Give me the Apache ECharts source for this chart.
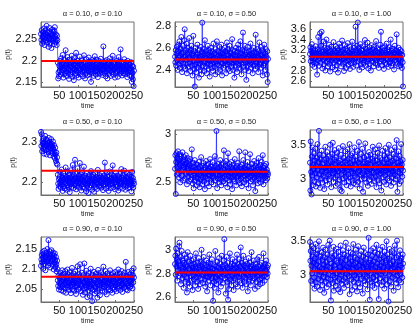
<!DOCTYPE html>
<html><head><meta charset="utf-8">
<script src="https://cdn.jsdelivr.net/npm/echarts@6/dist/echarts.min.js"></script>
<style>html,body{margin:0;padding:0;background:#fff}#c{width:416px;height:330px}</style>
</head><body><div id="c"></div>
<script>
const titles = ['α = 0.10, σ = 0.10','α = 0.10, σ = 0.50','α = 0.10, σ = 1.00',
                'α = 0.50, σ = 0.10','α = 0.50, σ = 0.50','α = 0.50, σ = 1.00',
                'α = 0.90, σ = 0.10','α = 0.90, σ = 0.50','α = 0.90, σ = 1.00'];
const xTicks = [50,100,150,200,250];
const yTicks = [[2.15,2.2,2.25],[2.4,2.6,2.8],[2.6,2.8,3,3.2,3.4,3.6],
                [2.2,2.3],[2.5,3],[3,3.5],
                [2.05,2.1,2.15],[2.6,2.8,3],[3,3.5]];
const yMin = [2.138,2.245,2.48,2.168,2.37,2.752,2.018,2.56,2.618];
const yMax = [2.29,2.836,3.74,2.3285,3.04,3.733,2.18,3.108,3.552];
const meanP = [2.199,2.495,3.066,2.228,2.61,3.173,2.081,2.808,3.06];

const p11 = [2.262,2.248,2.271,2.239,2.255,2.266,2.244,2.258,2.275,2.251,
2.236,2.262,2.270,2.247,2.259,2.281,2.253,2.242,2.265,2.257,
2.232,2.249,2.268,2.276,2.254,2.241,2.263,2.250,2.229,2.257,
2.272,2.260,2.245,2.266,2.252,2.238,2.269,2.278,2.256,2.243,
2.261,2.249,2.236,2.258,2.247,
2.195,2.158,2.172,2.163,2.188,
2.176,2.199,2.184,2.167,2.205,2.191,2.172,2.186,2.213,2.178,
2.160,2.193,2.182,2.201,2.169,2.187,2.224,2.175,2.190,2.164,
2.183,2.208,2.171,2.196,2.180,2.157,2.189,2.202,2.177,2.168,
2.194,2.185,2.211,2.173,2.162,2.198,2.181,2.190,2.154,2.179,
2.206,2.187,2.170,2.193,2.218,2.176,2.184,2.166,2.199,2.188,
2.172,2.160,2.195,2.183,2.209,2.178,2.191,2.168,2.186,2.200,
2.174,2.189,2.163,2.181,2.196,2.212,2.177,2.185,2.158,2.192,
2.180,2.203,2.171,2.187,2.165,2.194,2.182,2.176,2.207,2.189,
2.168,2.183,2.197,2.173,2.150,2.186,2.201,2.179,2.192,2.170,
2.185,2.164,2.198,2.181,2.210,2.175,2.190,2.167,2.184,2.202,
2.178,2.193,2.161,2.186,2.174,2.199,2.183,2.169,2.191,2.177,
2.204,2.188,2.172,2.195,2.180,2.166,2.187,2.233,2.179,2.192,
2.170,2.184,2.198,2.163,2.186,2.175,2.201,2.189,2.158,2.182,
2.194,2.178,2.169,2.191,2.205,2.176,2.187,2.164,2.183,2.197,
2.173,2.188,2.211,2.180,2.167,2.193,2.179,2.185,2.160,2.196,
2.182,2.171,2.200,2.186,2.175,2.190,2.162,2.184,2.208,2.177,
2.193,2.169,2.188,2.226,2.181,2.174,2.197,2.165,2.186,2.179,
2.192,2.170,2.183,2.203,2.176,2.189,2.168,2.195,2.180,2.173,
2.187,2.161,2.199,2.184,2.172,2.194,2.178,2.166,2.190,2.182,
2.175,2.196,2.163,2.150,2.188,2.171,2.156,2.185,2.140,2.176];

const p12 = [2.52,2.47,2.58,2.44,2.55,2.61,2.49,2.40,2.57,2.63,
2.51,2.45,2.66,2.53,2.42,2.59,2.48,2.70,2.55,2.38,
2.50,2.62,2.46,2.56,2.43,2.67,2.77,2.52,2.41,2.58,
2.49,2.64,2.37,2.54,2.46,2.60,2.51,2.43,2.69,2.56,
2.47,2.39,2.58,2.50,2.62,2.44,2.55,2.35,2.53,2.71,
2.48,2.41,2.57,2.25,2.45,2.60,2.52,2.38,2.54,2.47,
2.63,2.42,2.55,2.49,2.33,2.58,2.46,2.52,2.40,2.61,
2.50,2.36,2.56,2.83,2.44,2.53,2.47,2.59,2.39,2.55,
2.67,2.48,2.43,2.57,2.51,2.37,2.54,2.46,2.62,2.49,
2.41,2.58,2.52,2.34,2.56,2.45,2.60,2.48,2.53,2.42,
2.57,2.50,2.39,2.64,2.47,2.55,2.43,2.51,2.36,2.59,
2.48,2.54,2.66,2.45,2.52,2.38,2.57,2.49,2.44,2.61,
2.53,2.40,2.56,2.47,2.63,2.51,2.35,2.55,2.46,2.58,
2.42,2.52,2.49,2.60,2.44,2.57,2.48,2.37,2.54,2.65,
2.50,2.45,2.59,2.41,2.53,2.47,2.62,2.39,2.56,2.48,
2.55,2.43,2.51,2.68,2.46,2.58,2.40,2.54,2.49,2.33,
2.57,2.52,2.44,2.60,2.47,2.53,2.38,2.56,2.50,2.63,
2.45,2.59,2.42,2.52,2.48,2.66,2.41,2.55,2.36,2.51,
2.58,2.46,2.74,2.53,2.43,2.57,2.49,2.62,2.40,2.54,
2.47,2.31,2.56,2.50,2.44,2.61,2.52,2.39,2.57,2.48,
2.54,2.45,2.64,2.51,2.42,2.58,2.47,2.55,2.37,2.53,
2.49,2.60,2.44,2.56,2.50,2.41,2.72,2.48,2.55,2.46,
2.59,2.43,2.52,2.38,2.57,2.50,2.65,2.45,2.54,2.47,
2.61,2.42,2.53,2.49,2.58,2.35,2.56,2.44,2.51,2.63,
2.46,2.55,2.40,2.59,2.48,2.52,2.36,2.57,2.29,2.50];

const p13 = [3.12,3.25,2.98,3.18,3.05,3.31,2.91,3.08,3.22,2.96,
3.15,3.03,2.87,3.19,3.10,3.27,2.94,3.06,3.14,2.72,
3.21,3.00,3.45,3.09,2.89,3.17,3.04,3.52,3.13,2.95,
3.28,3.55,3.07,2.84,3.16,3.01,3.36,3.11,2.92,3.24,
3.05,2.80,3.19,3.12,3.40,2.97,3.08,3.23,2.88,3.14,
3.02,3.30,2.93,3.10,2.78,3.18,3.06,3.26,2.99,3.13,
2.86,3.21,3.04,3.35,2.95,3.09,3.17,2.82,3.11,3.27,
3.00,3.15,2.90,3.23,3.07,2.76,3.19,3.03,3.32,2.97,
3.12,3.05,3.25,2.88,3.16,3.01,3.38,3.08,2.93,3.20,
3.04,2.79,3.14,3.29,2.96,3.10,3.22,2.85,3.06,3.18,
2.99,3.33,3.09,2.91,3.15,3.02,3.26,2.83,3.13,3.07,
3.21,2.94,3.11,3.36,3.00,3.17,2.87,3.08,3.24,2.96,
3.12,3.03,3.65,3.19,2.90,3.14,3.28,2.98,3.73,3.10,
3.05,3.23,2.81,3.16,3.01,3.31,2.92,3.09,3.20,3.04,
2.86,3.18,3.11,3.27,2.95,3.13,3.00,3.39,3.07,2.89,
3.22,3.06,2.97,3.15,3.34,3.02,2.84,3.19,3.10,3.25,
2.93,3.08,3.17,2.80,3.12,3.29,3.04,2.98,3.21,3.07,
3.14,2.88,3.26,3.03,3.11,2.94,3.18,3.37,3.00,3.09,
3.23,2.91,3.15,3.05,2.85,3.20,3.12,2.97,3.30,3.08,
3.55,3.02,3.16,2.90,3.13,3.24,2.99,3.06,2.83,3.19,
3.10,3.27,2.95,3.14,3.04,3.32,2.92,3.11,3.21,3.01,
2.87,3.17,3.08,3.25,2.96,3.12,3.40,3.03,2.89,3.18,
3.09,2.94,3.22,3.06,3.15,2.82,3.13,3.28,3.00,3.11,
3.19,2.97,3.50,3.07,2.93,3.16,3.02,3.24,2.88,3.14,
3.05,3.20,2.90,3.12,3.01,3.17,2.85,3.10,2.96,2.49];

const p21 = [2.324,2.289,2.318,2.276,2.301,2.295,2.283,2.308,2.270,2.297,
2.286,2.314,2.279,2.293,2.305,2.268,2.290,2.302,2.281,2.296,
2.274,2.309,2.287,2.299,2.266,2.292,2.284,2.306,2.277,2.294,
2.288,2.271,2.300,2.282,2.263,2.291,2.275,2.259,2.285,2.268,
2.252,2.273,2.246,2.261,2.243,
2.218,2.196,2.183,2.207,2.190,
2.212,2.199,2.225,2.186,2.203,2.231,2.194,2.210,2.178,2.205,
2.221,2.189,2.200,2.215,2.184,2.208,2.236,2.197,2.213,2.181,
2.204,2.226,2.192,2.209,2.187,2.218,2.201,2.175,2.211,2.195,
2.229,2.206,2.188,2.214,2.199,2.242,2.203,2.185,2.217,2.193,
2.208,2.255,2.196,2.211,2.182,2.220,2.203,2.190,2.234,2.207,
2.198,2.215,2.186,2.209,2.247,2.201,2.193,2.219,2.179,2.206,
2.224,2.195,2.212,2.188,2.203,2.238,2.200,2.184,2.216,2.197,
2.210,2.177,2.205,2.222,2.191,2.208,2.196,2.173,2.214,2.202,
2.187,2.219,2.204,2.192,2.227,2.199,2.213,2.181,2.206,2.195,
2.218,2.201,2.176,2.209,2.194,2.223,2.205,2.188,2.212,2.198,
2.183,2.207,2.230,2.196,2.211,2.189,2.204,2.217,2.192,2.200,
2.214,2.186,2.203,2.221,2.197,2.209,2.180,2.206,2.193,2.216,
2.201,2.248,2.195,2.210,2.184,2.207,2.224,2.198,2.213,2.190,
2.205,2.178,2.212,2.199,2.226,2.194,2.208,2.185,2.203,2.219,
2.196,2.210,2.241,2.201,2.187,2.215,2.198,2.206,2.182,2.211,
2.200,2.223,2.193,2.208,2.189,2.216,2.204,2.179,2.212,2.197,
2.209,2.186,2.220,2.202,2.195,2.232,2.199,2.211,2.184,2.205,
2.217,2.192,2.207,2.228,2.196,2.203,2.181,2.213,2.200,2.190,
2.222,2.198,2.209,2.185,2.214,2.201,2.194,2.218,2.187,2.206,
2.199,2.213,2.177,2.204,2.225,2.193,2.210,2.186,2.202,2.196];

const p22 = [2.64,2.78,2.38,2.71,2.80,2.58,2.75,2.66,2.82,2.60,
2.73,2.55,2.79,2.68,2.50,2.74,2.62,2.77,2.57,2.70,
2.81,2.63,2.52,2.72,2.66,2.76,2.54,2.69,2.61,2.78,
2.59,2.70,2.48,2.67,2.75,2.56,2.64,2.72,2.51,2.68,
2.60,2.74,2.53,2.65,2.58,2.84,2.62,2.49,2.70,2.57,
2.44,2.66,2.59,2.73,2.52,2.63,2.55,2.69,2.47,2.61,
2.68,2.54,2.64,2.50,2.71,2.58,2.45,2.66,2.60,2.53,
2.76,2.57,2.62,2.48,2.67,2.55,2.70,2.51,2.63,2.59,
2.43,2.65,2.56,2.72,2.60,2.49,2.68,2.54,2.62,2.58,
2.69,2.46,2.64,2.57,2.74,2.53,2.61,2.66,2.50,2.63,
2.56,2.71,2.59,2.48,2.65,2.55,2.62,2.77,2.52,2.60,
2.67,3.03,2.58,2.44,2.64,2.54,2.69,2.61,2.50,2.66,
2.57,2.73,2.53,2.62,2.47,2.68,2.59,2.55,2.64,2.51,
2.70,2.83,2.56,2.63,2.49,2.67,2.58,2.72,2.54,2.61,
2.45,2.65,2.80,2.57,2.62,2.52,2.69,2.60,2.48,2.66,
2.55,2.71,2.59,2.43,2.64,2.56,2.68,2.53,2.62,2.58,
2.74,2.51,2.65,2.60,2.47,2.67,2.55,2.63,2.57,2.70,
2.52,2.61,2.82,2.58,2.49,2.66,2.54,2.64,2.59,2.46,
2.68,2.56,2.62,2.73,2.50,2.65,2.57,2.60,2.81,2.53,
2.63,2.48,2.67,2.58,2.71,2.54,2.61,2.44,2.66,2.59,
2.56,2.79,2.62,2.51,2.64,2.57,2.69,2.53,2.60,2.47,
2.65,2.58,2.72,2.55,2.62,2.41,2.67,2.59,2.52,2.70,
2.57,2.63,2.49,2.66,2.75,2.54,2.61,2.58,2.68,2.50,
2.64,2.56,2.71,2.60,2.53,2.78,2.62,2.48,2.65,2.59,
2.55,2.67,2.61,2.52,2.69,2.57,2.63,2.54,2.60,2.58];

const p23 = [3.24,2.82,3.56,3.10,2.76,3.33,3.05,3.47,2.90,3.21,
3.14,3.38,2.96,3.27,3.08,3.45,2.88,3.19,3.31,3.02,
3.52,3.13,2.93,3.25,3.72,3.07,3.36,2.86,3.18,3.29,
3.00,3.42,3.11,2.94,3.22,3.35,3.04,3.16,2.84,3.28,
3.09,3.48,3.17,2.97,3.30,3.12,3.40,2.91,3.20,3.06,
3.34,2.99,3.23,3.15,3.51,3.03,3.26,2.87,3.18,3.37,
3.08,3.54,3.13,2.95,3.29,3.10,3.43,3.01,3.21,2.89,
3.32,3.14,3.05,3.39,2.92,3.24,3.11,3.46,2.98,3.19,
3.27,2.83,3.15,3.36,3.07,2.81,3.22,3.12,3.49,3.00,
3.18,3.31,2.94,3.25,3.09,3.41,3.03,3.16,2.90,3.28,
3.13,3.44,3.06,2.96,3.30,3.17,3.52,3.02,3.23,2.88,
3.35,3.11,3.20,2.97,3.38,3.08,3.26,2.93,3.15,3.47,
3.04,3.21,3.33,2.91,3.14,3.27,3.01,3.42,3.10,2.95,
3.24,3.55,3.12,2.85,3.29,3.06,3.19,3.37,2.99,3.16,
3.45,3.08,2.80,3.22,3.13,3.32,3.00,3.25,3.53,3.05,
3.18,2.94,3.34,3.11,3.23,2.89,3.28,3.07,3.40,3.14,
2.98,3.21,3.36,3.03,3.17,2.92,3.30,3.12,3.48,3.01,
3.26,3.09,2.96,3.33,3.15,3.44,3.04,3.20,2.87,3.27,
3.11,3.39,2.97,3.22,3.06,3.50,3.14,2.93,3.31,3.08,
3.19,2.82,3.28,3.13,3.42,3.02,3.24,3.10,2.95,3.35,
3.16,3.05,3.46,3.12,2.91,3.29,3.18,3.38,3.00,3.23,
3.09,3.51,3.14,2.97,3.32,3.07,3.25,2.89,3.43,3.15,
3.02,3.27,3.11,3.37,2.94,3.20,3.06,3.47,3.13,2.99,
3.30,3.17,3.58,3.04,2.80,3.24,3.10,3.41,3.19,2.92,
3.34,3.08,3.26,2.96,3.52,3.15,3.21,3.03,3.28,3.12];

const p31 = [2.108,2.124,2.135,2.117,2.142,2.129,2.101,2.138,2.120,2.146,
2.113,2.131,2.097,2.126,2.140,2.118,2.133,2.150,2.122,2.109,
2.172,2.137,2.115,2.128,2.144,2.104,2.132,2.119,2.147,2.125,
2.136,2.111,2.141,2.127,2.099,2.134,2.116,2.139,2.123,2.106,
2.130,2.112,2.094,2.121,2.100,
2.072,2.058,2.084,2.049,2.066,
2.078,2.055,2.091,2.062,2.047,2.083,2.069,2.097,2.058,2.074,
2.044,2.088,2.063,2.079,2.052,2.095,2.067,2.041,2.081,2.060,
2.076,2.099,2.054,2.070,2.086,2.048,2.065,2.092,2.057,2.073,
2.040,2.084,2.061,2.103,2.068,2.050,2.079,2.063,2.089,2.046,
2.071,2.056,2.094,2.066,2.038,2.082,2.059,2.075,2.107,2.064,
2.049,2.087,2.070,2.053,2.080,2.112,2.062,2.045,2.077,2.091,
2.058,2.073,2.036,2.068,2.085,2.051,2.114,2.066,2.042,2.078,
2.060,2.096,2.054,2.071,2.030,2.083,2.064,2.047,2.090,2.057,
2.074,2.033,2.069,2.101,2.052,2.079,2.061,2.020,2.086,2.065,
2.048,2.076,2.093,2.058,2.039,2.072,2.055,2.088,2.067,2.044,
2.081,2.029,2.063,2.098,2.070,2.051,2.084,2.060,2.035,2.077,
2.066,2.092,2.053,2.074,2.046,2.087,2.062,2.106,2.069,2.056,
2.080,2.043,2.071,2.095,2.059,2.075,2.037,2.065,2.089,2.054,
2.068,2.083,2.050,2.073,2.062,2.097,2.047,2.078,2.058,2.085,
2.064,2.041,2.076,2.090,2.055,2.070,2.082,2.049,2.067,2.093,
2.060,2.074,2.045,2.086,2.063,2.052,2.079,2.099,2.066,2.057,
2.072,2.088,2.048,2.069,2.081,2.058,2.095,2.064,2.043,2.077,
2.061,2.084,2.053,2.073,2.091,2.056,2.068,2.118,2.075,2.050,
2.082,2.065,2.047,2.078,2.093,2.060,2.071,2.054,2.087,2.069,
2.057,2.080,2.063,2.096,2.074,2.052,2.085,2.067,2.102,2.079];

const p32 = [2.88,2.95,2.79,3.01,2.86,2.92,2.74,2.97,2.83,2.90,
2.78,3.03,3.06,2.87,2.80,2.94,2.71,2.85,2.99,2.82,
2.76,2.91,2.84,2.68,2.89,2.79,2.96,2.73,2.87,2.81,
2.93,2.77,2.64,2.86,2.98,2.80,2.72,2.90,2.84,2.69,
2.83,2.95,2.78,2.87,2.74,2.91,2.82,2.66,2.85,2.79,
2.92,2.75,2.88,2.81,2.70,2.86,2.97,2.77,2.84,2.73,
2.89,2.80,2.67,2.85,2.93,2.78,2.83,2.71,2.90,2.82,
2.76,3.00,2.86,2.79,2.88,2.72,2.84,2.94,2.81,2.75,
2.87,2.69,2.83,2.78,2.91,2.80,2.65,2.86,2.77,2.89,
2.82,2.74,2.96,2.79,2.85,2.70,2.88,2.81,2.76,2.92,
2.78,2.84,2.57,2.80,2.73,2.87,2.68,2.83,2.99,2.77,
2.86,2.71,2.82,2.90,2.75,2.79,2.64,2.85,2.93,2.80,
2.74,2.88,2.83,2.69,2.81,2.95,2.77,2.86,2.72,2.84,
2.79,2.91,3.09,2.82,2.76,2.87,2.63,2.80,2.94,2.85,
2.73,2.89,2.58,2.78,2.84,2.67,2.81,2.97,2.75,2.86,
2.82,2.70,2.88,2.79,2.92,2.74,2.83,2.66,2.87,2.80,
2.76,2.90,2.84,2.71,2.85,2.78,2.96,2.81,2.69,2.88,
2.83,2.77,2.92,2.80,2.74,2.86,3.02,2.79,2.72,2.89,
2.84,2.68,2.82,2.95,2.78,2.87,2.73,2.81,2.90,2.76,
2.85,2.80,2.71,2.88,2.83,2.65,2.79,2.93,2.82,2.75,
2.89,2.77,2.84,2.70,2.86,2.98,2.81,2.74,2.87,2.79,
2.83,2.91,2.76,2.85,2.67,2.80,2.88,2.73,2.84,2.78,
2.92,2.82,2.69,2.86,2.79,2.94,2.75,2.83,2.71,2.87,
2.80,2.76,2.89,2.84,2.72,2.85,2.81,2.97,2.78,2.86,
2.74,2.88,2.83,2.79,2.91,2.82,2.77,2.85,2.80,2.87];

const p33 = [3.48,3.21,3.35,2.92,3.14,3.42,3.03,3.27,2.88,3.18,
3.39,2.97,2.81,3.24,3.09,3.45,2.90,3.16,3.31,2.84,
3.07,3.36,2.95,3.20,3.49,3.01,3.12,2.79,3.28,3.05,
2.93,3.33,3.10,2.86,3.22,3.40,2.98,3.15,2.75,3.26,
3.04,3.37,2.91,3.19,3.08,2.83,3.30,3.13,2.96,3.44,
3.02,2.87,3.23,3.50,3.11,2.94,2.64,3.17,3.06,3.32,
2.89,3.25,3.00,3.41,2.78,3.14,3.29,2.97,3.09,2.85,
3.21,3.38,3.03,2.92,3.18,2.80,3.34,3.07,2.95,3.27,
3.12,2.76,3.43,3.01,3.19,2.88,3.24,3.05,3.36,2.93,
3.16,2.82,3.30,3.08,2.97,3.22,3.47,2.90,3.13,3.02,
3.28,2.86,3.11,3.39,2.99,3.17,2.73,3.25,3.06,3.33,
2.94,3.20,3.04,2.79,3.31,3.10,3.45,2.91,3.15,3.00,
3.26,2.84,3.18,3.37,2.96,3.12,2.77,3.23,3.05,3.42,
2.89,3.14,3.29,3.02,2.83,3.21,3.08,3.35,2.95,3.19,
3.04,2.74,3.27,3.11,3.40,2.92,3.16,3.01,3.32,2.87,
3.13,3.24,2.98,3.09,2.80,3.30,3.06,3.54,2.94,3.18,
2.65,3.22,3.03,3.36,2.90,3.15,3.28,2.85,3.10,3.39,
2.97,3.20,3.07,2.82,3.33,3.12,2.93,3.25,3.44,3.00,
3.17,2.88,3.31,3.05,2.66,3.23,3.08,3.37,2.96,3.14,
3.02,3.29,2.86,3.19,3.41,3.06,2.91,3.26,3.11,2.81,
3.34,3.03,3.18,2.94,3.22,3.49,3.09,2.87,3.30,3.13,
2.625,3.24,3.01,3.38,2.92,3.16,3.07,2.84,3.27,3.10,
3.35,2.97,3.20,3.04,2.78,3.32,3.12,3.43,2.95,3.15,
3.06,2.89,3.26,3.50,3.00,3.19,2.83,3.28,3.08,2.93,
3.21,3.36,3.02,3.14,2.90,3.25,3.11,2.97,3.30,3.17];

const series = [p11,p12,p13,p21,p22,p23,p31,p32,p33];

const lefts = [41,175,310], tops = [22,130,237], W = 93, H = 65;
const nameGaps = [24,19,22];
const FONT = 'Liberation Sans, Arial, Helvetica, sans-serif';
const AX = '#6e6e6e';

const grid = [], xAxis = [], yAxis = [], ser = [], title = [];
for (let i = 0; i < 9; i++) {
  const r = Math.floor(i / 3), c = i % 3;
  const evenTicks = yTicks[i].filter((_, k) => k % 2 === 0);
  const oddTicks = yTicks[i].filter((_, k) => k % 2 === 1);
  grid.push({left: lefts[c], top: tops[r], width: W, height: H, show: true,
    borderColor: AX, borderWidth: 1, backgroundColor: 'transparent', containLabel: false});
  title.push({text: titles[i], left: lefts[c] + W / 2, top: tops[r] - 17, textAlign: 'center',
    textStyle: {fontSize: 7.5, fontWeight: 'normal', color: '#222', fontFamily: FONT}});
  xAxis.push({type: 'value', gridIndex: i, min: 1, max: 250,
    name: 'time', nameLocation: 'middle', nameGap: 16,
    nameTextStyle: {fontSize: 7, color: '#222', fontFamily: FONT},
    axisLine: {show: true, lineStyle: {color: AX, width: 1}},
    axisTick: {show: true, inside: true, length: 2, customValues: xTicks, lineStyle: {color: AX}},
    axisLabel: {show: true, customValues: xTicks, hideOverlap: false, showMinLabel: true, showMaxLabel: true,
      fontSize: 11, color: '#111', margin: 3, fontFamily: FONT},
    splitLine: {show: false}});
  // main y axis: line, all ticks, every other label, name
  yAxis.push({type: 'value', gridIndex: i, min: yMin[i], max: yMax[i], position: 'left',
    name: 'p(t)', nameLocation: 'middle', nameGap: nameGaps[c],
    nameTextStyle: {fontSize: 7, color: '#222', fontFamily: FONT},
    axisLine: {show: true, lineStyle: {color: AX, width: 1}},
    axisTick: {show: true, inside: true, length: 2, customValues: yTicks[i], lineStyle: {color: AX}},
    axisLabel: {show: true, customValues: evenTicks, hideOverlap: false, showMinLabel: true, showMaxLabel: true,
      fontSize: 11, color: '#111', margin: 4, fontFamily: FONT},
    splitLine: {show: false}});
  // companion y axis: remaining labels only
  yAxis.push({type: 'value', gridIndex: i, min: yMin[i], max: yMax[i], position: 'left', offset: 0,
    axisLine: {show: false}, axisTick: {show: false},
    axisLabel: {show: oddTicks.length > 0, customValues: oddTicks.length ? oddTicks : evenTicks,
      hideOverlap: false, showMinLabel: true, showMaxLabel: true,
      fontSize: 11, color: '#111', margin: 4, fontFamily: FONT},
    splitLine: {show: false}});
  ser.push({type: 'line', xAxisIndex: i, yAxisIndex: 2 * i,
    data: series[i].map((v, k) => [k + 1, v]),
    symbol: 'circle', symbolSize: 5, showAllSymbol: true,
    itemStyle: {color: 'rgba(0,0,0,0)', borderColor: '#0000ff', borderWidth: 0.9},
    lineStyle: {color: '#0000ff', width: 0.6},
    silent: true, animation: false, z: 2});
  ser.push({type: 'line', xAxisIndex: i, yAxisIndex: 2 * i,
    data: [[1, meanP[i]], [250, meanP[i]]], symbol: 'none',
    lineStyle: {color: '#ff0000', width: 2}, silent: true, animation: false, z: 3});
}

const chart = echarts.init(document.getElementById('c'), null, {renderer: 'canvas'});
chart.setOption({animation: false, backgroundColor: '#fff', title, grid, xAxis, yAxis, series: ser});
</script>
</body></html>
